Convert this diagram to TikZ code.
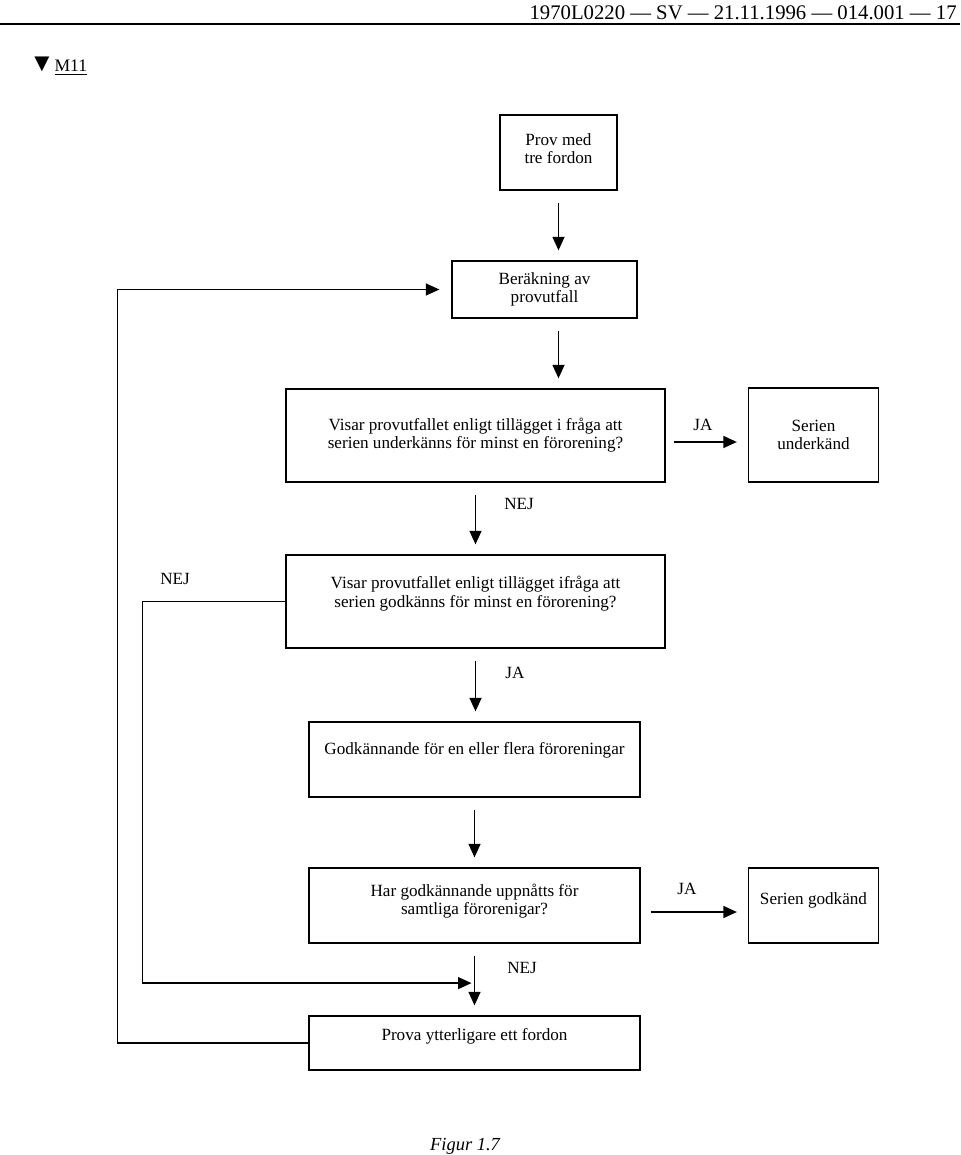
\documentclass[tikz,border=0pt]{standalone}
\usepackage{fontspec}
\setmainfont{Liberation Serif}
\usetikzlibrary{arrows.meta,calc}
\newcommand{\lift}[1]{\rule[-#1]{0pt}{0pt}}

\begin{document}
\begin{tikzpicture}[x=0.02cm,y=-0.02cm,
    box/.style={draw,line width=0.75pt,align=center,inner sep=0pt,font=\fontsize{9.75}{10.3}\selectfont},
    arr/.style={line width=0.75pt,-{Triangle[length=0.27cm,width=0.24cm]}},
    down/.style={arr,shorten <=0.25cm,shorten >=0.2cm},
    lbl/.style={font=\fontsize{9.75}{10.5}\selectfont}]
  % Page
  \useasboundingbox (0,0) rectangle (960,1155);
  \node[anchor=base east,inner sep=0pt,font=\fontsize{11.8}{13}\selectfont] (head) at (957,20) {1970L0220 — SV — 21.11.1996 — 014.001 — 17};
  \draw[line width=1.2pt] (0,24) -- (960,24);
  \node[anchor=base west,inner sep=0pt,font=\fontsize{10}{12}\selectfont] (mark) at (29,72) {{\fontsize{14.5}{15}\selectfont▼}\underline{M11}};
  % Boxes
  \node[box,minimum width=2.34cm,minimum height=1.5cm] (prov) at (558.5,152.5) {Prov med\\tre fordon\lift{0.17cm}};
  \node[box,minimum width=3.7cm,minimum height=1.14cm] (ber) at (544.5,289.5) {Beräkning av\\provutfall\lift{0.08cm}};
  \node[box,minimum width=7.58cm,minimum height=1.86cm] (vis1) at (475.5,435.5) {Visar provutfallet enligt tillägget i fråga att\\serien underkänns för minst en förorening?};
  \node[box,minimum width=2.6cm,minimum height=1.88cm] (su) at (813.5,435) {Serien\\underkänd};
  \node[box,minimum width=7.58cm,minimum height=1.86cm] (vis2) at (475.5,601.5) {Visar provutfallet enligt tillägget ifråga att\\serien godkänns för minst en förorening?\lift{0.39cm}};
  \node[box,minimum width=6.62cm,minimum height=1.5cm] (godk) at (474.5,759.5) {Godkännande för en eller flera föroreningar\lift{0.45cm}};
  \node[box,minimum width=6.62cm,minimum height=1.5cm] (har) at (474.5,905.5) {Har godkännande uppnåtts för\\samtliga förorenigar?\lift{0.24cm}};
  \node[box,minimum width=2.6cm,minimum height=1.5cm] (sg) at (813.5,905.5) {Serien godkänd\lift{0.28cm}};
  \node[box,minimum width=6.62cm,minimum height=1.08cm] (prova) at (474.5,1043) {Prova ytterligare ett fordon\lift{0.33cm}};
  % Main column
  \draw[down] (prov.south) -- (prov.south |- ber.north);
  \draw[down] (prov.south |- ber.south) -- (prov.south |- vis1.north);
  \draw[down] (vis1.south) -- (vis1.south |- vis2.north);
  \draw[down] (vis2.south) -- (vis2.south |- godk.north);
  \draw[down] (godk.south) -- (godk.south |- har.north);
  \draw[down] (har.south) -- (har.south |- prova.north);
  % JA branches
  \draw[arr,shorten <=0.16cm,shorten >=0.22cm] ([yshift=-0.13cm]vis1.east) -- ([yshift=-0.13cm]vis1.east -| su.west);
  \draw[arr,shorten <=0.2cm,shorten >=0.22cm] ([yshift=-0.13cm]har.east) -- ([yshift=-0.13cm]har.east -| sg.west);
  % Loops back
  \coordinate (join) at ($(har.south)!0.55!(prova.north)$);
  \draw[arr,shorten >=0.06cm] (vis2.west) -- ++(-143,0) |- (join);
  \draw[arr,shorten >=0.24cm] (prova.west) -- ++(-191,0) |- (ber.west);
  % Labels
  \node[lbl] (ja1) at (703,425) {JA};
  \node[lbl] (nej1) at (519,504) {NEJ};
  \node[lbl] (ja2) at (515,673) {JA};
  \node[lbl] (ja3) at (687,889) {JA};
  \node[lbl] (nej2) at (522,968) {NEJ};
  \node[lbl] (nej3) at (175,579) {NEJ};
  \node[anchor=base,inner sep=0pt,font=\fontsize{10.5}{12}\selectfont\itshape] (fig) at (465,1150) {Figur 1.7};
\end{tikzpicture}
\end{document}
